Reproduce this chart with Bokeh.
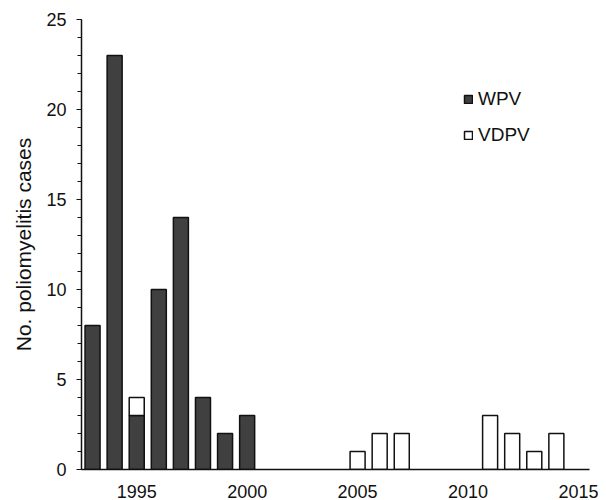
from bokeh.plotting import figure
from bokeh.models import ColumnDataSource, FixedTicker, Range1d, Legend, LegendItem
from bokeh.embed import file_html
from bokeh.resources import INLINE

years = list(range(1993, 2015))
wpv = [8, 23, 3, 10, 14, 4, 2, 3, 0, 0, 0, 0, 0, 0, 0, 0, 0, 0, 0, 0, 0, 0]
vdpv = [0, 0, 1, 0, 0, 0, 0, 0, 0, 0, 0, 0, 1, 2, 2, 0, 0, 0, 3, 2, 1, 2]
x_ticks = [1995, 2000, 2005, 2010, 2015]
y_ticks = [0, 5, 10, 15, 20, 25]
y_title = "No. poliomyelitis cases"

w_src = ColumnDataSource(dict(
    x=[y for y, a in zip(years, wpv) if a > 0],
    bottom=[0 for a in wpv if a > 0],
    top=[a for a in wpv if a > 0],
))
v_src = ColumnDataSource(dict(
    x=[y for y, a, b in zip(years, wpv, vdpv) if b > 0],
    bottom=[a for a, b in zip(wpv, vdpv) if b > 0],
    top=[a + b for a, b in zip(wpv, vdpv) if b > 0],
))

FONT = "Liberation Sans"

p = figure(width=598, height=500, output_backend="svg", toolbar_location=None,
           x_range=Range1d(1992.5, 2015.5), y_range=Range1d(0, 25),
           min_border_left=81, min_border_right=9, min_border_top=19, min_border_bottom=31)
p.outline_line_color = None
p.xgrid.grid_line_color = None
p.ygrid.grid_line_color = None

rw = p.vbar(x="x", bottom="bottom", top="top", width=0.68, source=w_src,
            fill_color="#404040", line_color="#111111", line_width=1.5)
rv = p.vbar(x="x", bottom="bottom", top="top", width=0.68, source=v_src,
            fill_color="white", line_color="#111111", line_width=1.5)

xa = p.xaxis[0]
xa.ticker = FixedTicker(ticks=x_ticks)
xa.major_tick_line_color = None
xa.minor_tick_line_color = None
xa.axis_line_width = 1.5
xa.axis_line_color = "#111111"
xa.major_label_text_font = FONT
xa.major_label_text_font_size = "18px"
xa.major_label_text_color = "#111111"
xa.major_label_standoff = 9

ya = p.yaxis[0]
ya.ticker = FixedTicker(ticks=y_ticks, minor_ticks=list(range(0, 26)))
ya.axis_line_width = 1.5
ya.axis_line_color = "#111111"
ya.major_tick_in = 0
ya.major_tick_out = 5
ya.minor_tick_in = 0
ya.minor_tick_out = 4
ya.major_tick_line_color = "#111111"
ya.minor_tick_line_color = "#111111"
ya.major_label_text_font = FONT
ya.major_label_text_font_size = "18px"
ya.major_label_text_color = "#111111"
ya.major_label_standoff = 10
ya.axis_label = y_title
ya.axis_label_text_font = FONT
ya.axis_label_text_font_style = "normal"
ya.axis_label_text_font_size = "21px"
ya.axis_label_text_color = "#111111"
ya.axis_label_standoff = 8

legend = Legend(items=[LegendItem(label="WPV", renderers=[rw]),
                       LegendItem(label="VDPV", renderers=[rv])],
                location=(382, 323), padding=0, margin=0, spacing=14,
                glyph_width=10, glyph_height=10, label_standoff=5,
                label_height=20, label_text_font=FONT,
                label_text_font_size="19px", label_text_color="#111111",
                border_line_color=None, background_fill_alpha=0)
p.add_layout(legend)

open("out.html", "w").write(file_html(p, INLINE))
